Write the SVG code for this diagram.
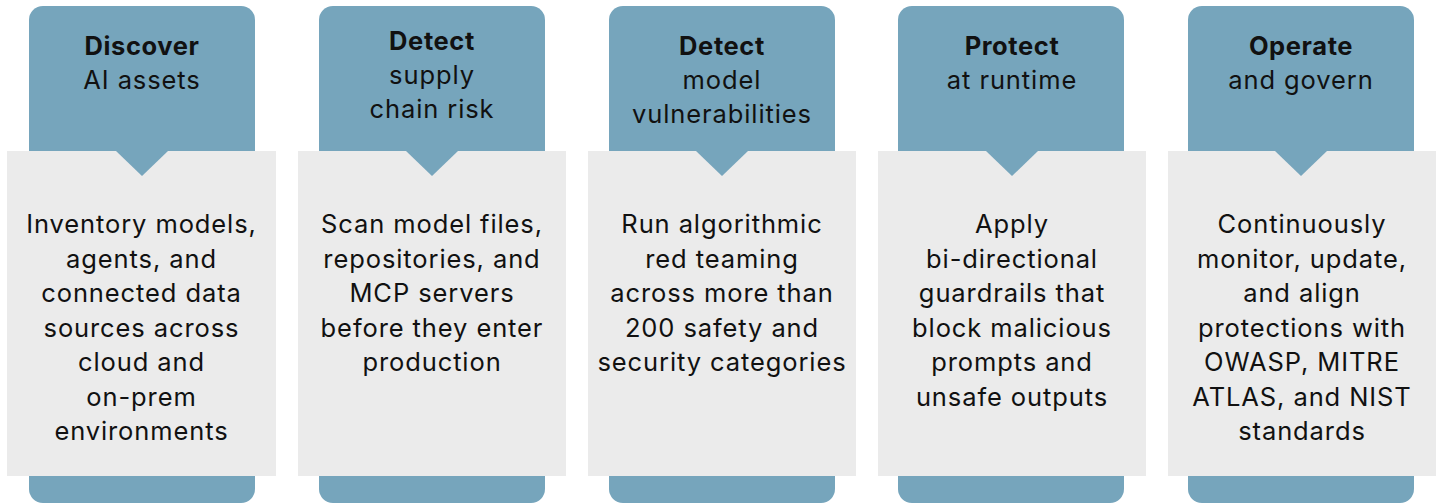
<svg xmlns="http://www.w3.org/2000/svg" width="1437" height="504" viewBox="0 0 1437 504">
<style>
.hdr{fill:#76A5BC}
.body{fill:#EBEBEB}
.t{font-family:Inter,"Liberation Sans",sans-serif;font-size:25.5px;letter-spacing:0.9px;fill:#111;text-anchor:middle}
.b{font-weight:700;letter-spacing:0.6px}
</style>
<defs>
<path id="tri" d="M-26,0 L26,0 L0,25 Z"/>
</defs>
<rect width="1437" height="504" fill="#fff"/>
<g id="card1">
<rect class="hdr" x="29" y="6" width="226" height="497" rx="14"/>
<rect class="body" x="7" y="151" width="269" height="325"/>
<use href="#tri" class="hdr" x="142" y="151"/>
<text class="t b" x="142" y="55">Discover</text>
<text class="t" x="142" y="89">AI assets</text>
<text class="t" x="141.5" y="233">Inventory models,</text>
<text class="t" x="141.5" y="267.5">agents, and</text>
<text class="t" x="141.5" y="302">connected data</text>
<text class="t" x="141.5" y="336.5">sources across</text>
<text class="t" x="141.5" y="371">cloud and</text>
<text class="t" x="141.5" y="405.5">on-prem</text>
<text class="t" x="141.5" y="440">environments</text>
</g>
<g id="card2">
<rect class="hdr" x="319" y="6" width="226" height="497" rx="14"/>
<rect class="body" x="298" y="151" width="268" height="325"/>
<use href="#tri" class="hdr" x="432" y="151"/>
<text class="t b" x="432" y="49.5">Detect</text>
<text class="t" x="432" y="83.5">supply</text>
<text class="t" x="432" y="118">chain risk</text>
<text class="t" x="432" y="233">Scan model files,</text>
<text class="t" x="432" y="267.5">repositories, and</text>
<text class="t" x="432" y="302">MCP servers</text>
<text class="t" x="432" y="336.5">before they enter</text>
<text class="t" x="432" y="371">production</text>
</g>
<g id="card3">
<rect class="hdr" x="609" y="6" width="226" height="497" rx="14"/>
<rect class="body" x="588" y="151" width="268" height="325"/>
<use href="#tri" class="hdr" x="722" y="151"/>
<text class="t b" x="722" y="55">Detect</text>
<text class="t" x="722" y="89">model</text>
<text class="t" x="722" y="123">vulnerabilities</text>
<text class="t" x="722" y="233">Run algorithmic</text>
<text class="t" x="722" y="267.5">red teaming</text>
<text class="t" x="722" y="302">across more than</text>
<text class="t" x="722" y="336.5">200 safety and</text>
<text class="t" x="722" y="371">security categories</text>
</g>
<g id="card4">
<rect class="hdr" x="898" y="6" width="226" height="497" rx="14"/>
<rect class="body" x="878" y="151" width="268" height="325"/>
<use href="#tri" class="hdr" x="1012" y="151"/>
<text class="t b" x="1012" y="55">Protect</text>
<text class="t" x="1012" y="89">at runtime</text>
<text class="t" x="1012" y="233">Apply</text>
<text class="t" x="1012" y="267.5">bi-directional</text>
<text class="t" x="1012" y="302">guardrails that</text>
<text class="t" x="1012" y="336.5">block malicious</text>
<text class="t" x="1012" y="371">prompts and</text>
<text class="t" x="1012" y="405.5">unsafe outputs</text>
</g>
<g id="card5">
<rect class="hdr" x="1188" y="6" width="226" height="497" rx="14"/>
<rect class="body" x="1168" y="151" width="268" height="325"/>
<use href="#tri" class="hdr" x="1301" y="151"/>
<text class="t b" x="1301" y="55">Operate</text>
<text class="t" x="1301" y="89">and govern</text>
<text class="t" x="1302" y="233">Continuously</text>
<text class="t" x="1302" y="267.5">monitor, update,</text>
<text class="t" x="1302" y="302">and align</text>
<text class="t" x="1302" y="336.5">protections with</text>
<text class="t" x="1302" y="371">OWASP, MITRE</text>
<text class="t" x="1302" y="405.5">ATLAS, and NIST</text>
<text class="t" x="1302" y="440">standards</text>
</g>
<g id="connectors"></g>
</svg>
